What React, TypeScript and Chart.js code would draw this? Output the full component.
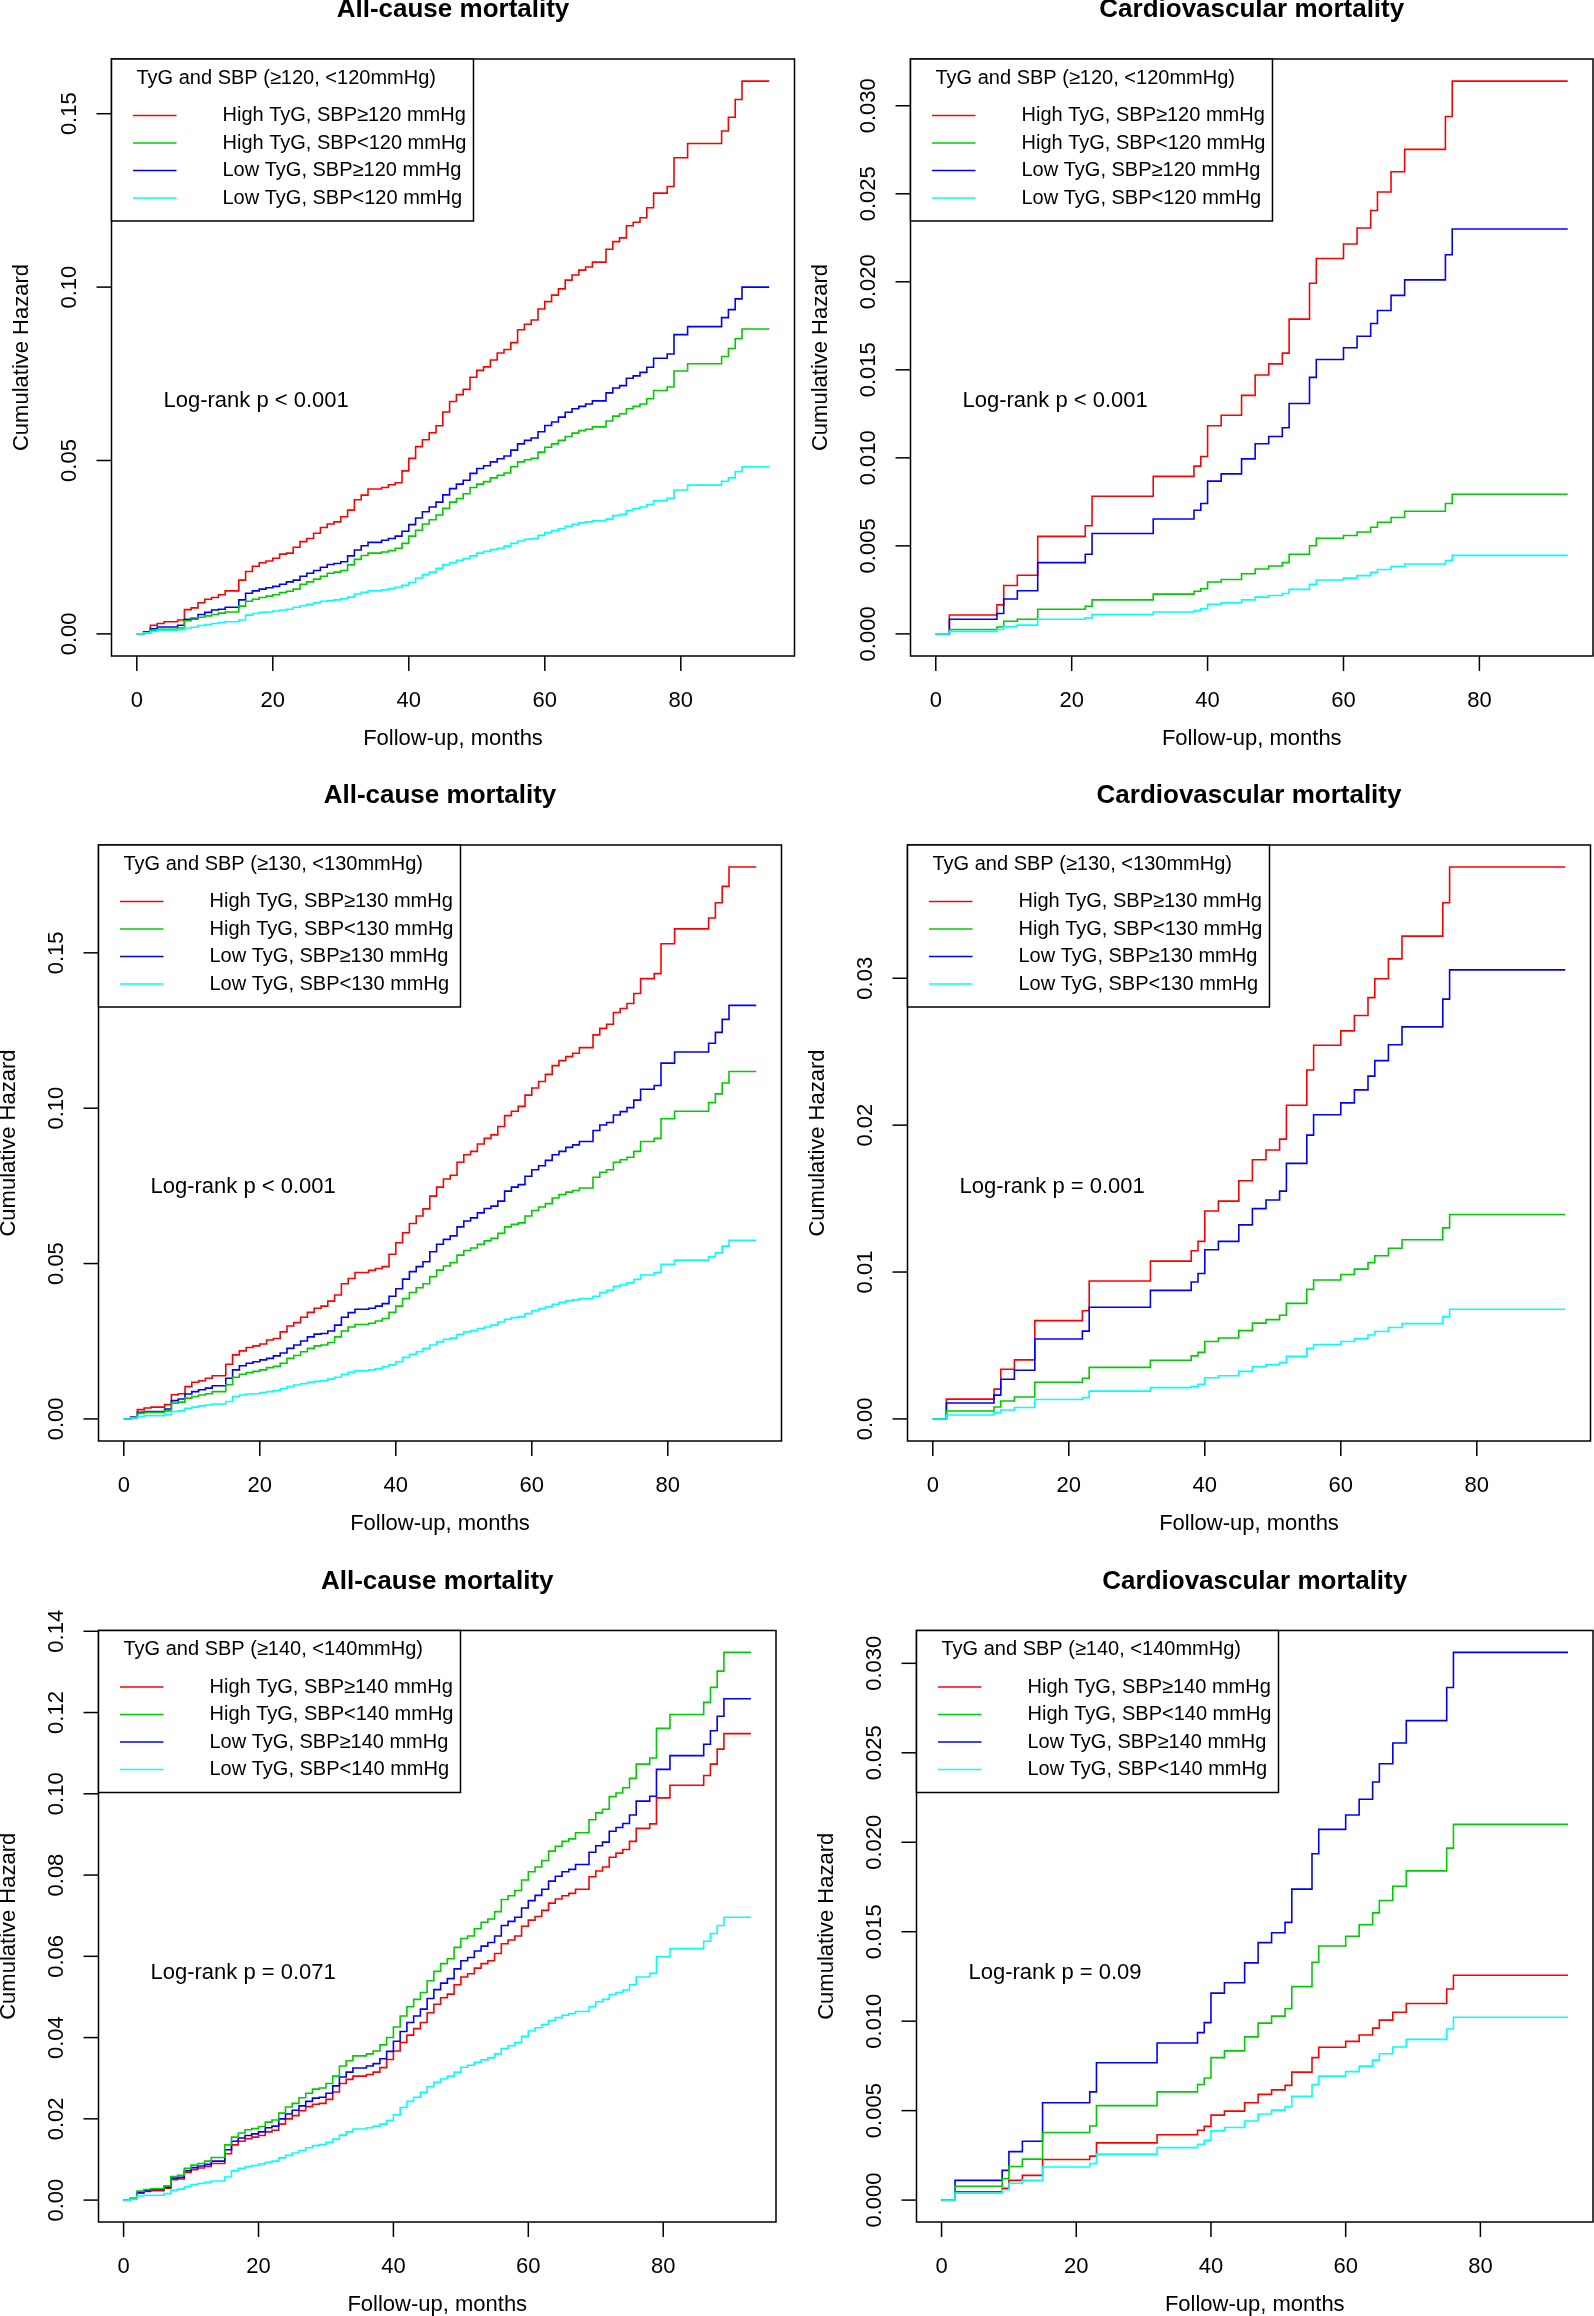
import React, { useEffect, useRef } from "react";
import { Chart, registerables } from "chart.js";

Chart.register(...registerables);

// ---------- data ----------
const X_TICKS = ["0", "20", "40", "60", "80"];
const SERIES_COLORS = ["#FF0000", "#00CD00", "#0000FF", "#00FFFF"];

// All-cause mortality: months at which the curves step (plus end of follow-up)
const ALL_MONTHS = [
  0, 1, 2, 3, 4,
  6, 7, 8, 9, 10, 11, 12, 13,
  15, 16, 17, 18, 19, 20, 21, 22, 23, 24, 25, 26, 27, 28, 29, 30, 31, 32, 33, 34,
  36, 37, 38, 39, 40, 41, 42, 43, 44, 45, 46, 47, 48, 49, 50, 51, 52, 53, 54, 55,
  56, 57, 58, 59, 60, 61, 62, 63, 64, 65, 66, 67,
  69, 70, 71, 72, 73, 74, 75, 76,
  78, 79, 81,
  86, 87, 88, 89,
  93,
];

// Cardiovascular mortality: step months (plus end of follow-up)
const CV_MONTHS = [0, 2, 9, 10, 12, 15, 22, 23, 32, 38, 39, 40, 42, 45, 47, 49, 51, 52, 55, 56, 60, 62, 64, 65, 67, 69, 75, 76, 93];

// Panel 1 (SBP 120, all-cause)
const P1_RED = [
  0, 0.0005, 0.0025, 0.003, 0.0035,
  0.004, 0.007, 0.0075, 0.009, 0.010, 0.0105, 0.0113, 0.0124,
  0.0155, 0.018, 0.0195, 0.0205, 0.021, 0.0218, 0.023, 0.0233, 0.025, 0.0266, 0.0275, 0.029, 0.0307, 0.0317, 0.0323, 0.0338, 0.0357, 0.0387, 0.040, 0.0418,
  0.0422, 0.043, 0.0436, 0.047, 0.0506, 0.054, 0.056, 0.058, 0.060, 0.064, 0.067, 0.069, 0.0705, 0.074, 0.076, 0.077, 0.079, 0.081, 0.082, 0.084,
  0.0877, 0.0893, 0.0905, 0.0937, 0.0958, 0.0977, 0.0995, 0.102, 0.1035, 0.1049, 0.1058, 0.1072,
  0.1109, 0.1131, 0.1142, 0.1177, 0.1187, 0.120, 0.1229, 0.1271,
  0.129, 0.1373, 0.1414,
  0.145, 0.149, 0.1541, 0.1594,
  0.1594,
];
const P1_GREEN = [
  0, 0.0003, 0.001, 0.0013, 0.0013,
  0.0017, 0.0038, 0.0042, 0.0048, 0.0052, 0.0056, 0.006, 0.0063,
  0.008, 0.0094, 0.01, 0.0105, 0.0109, 0.0113, 0.0119, 0.0123, 0.0129, 0.0143, 0.015, 0.0158, 0.0166, 0.0175, 0.0178, 0.0183, 0.0199, 0.0215, 0.0226, 0.0233,
  0.0236, 0.024, 0.0247, 0.0261, 0.0282, 0.0299, 0.0317, 0.0329, 0.0343, 0.0362, 0.038, 0.039, 0.0404, 0.0422, 0.0432, 0.0439, 0.045, 0.0457, 0.0464, 0.0482,
  0.0496, 0.0502, 0.0506, 0.0524, 0.0538, 0.0548, 0.0558, 0.0569, 0.0579, 0.0586, 0.059, 0.0597,
  0.0614, 0.0628, 0.0635, 0.0649, 0.0656, 0.0663, 0.0678, 0.0702,
  0.0712, 0.0758, 0.0779,
  0.08, 0.0823, 0.0851, 0.0879,
  0.0879,
];
const P1_BLUE = [
  0, 0.0005, 0.0015, 0.002, 0.002,
  0.0025, 0.0042, 0.0045, 0.0056, 0.0062, 0.0069, 0.0071, 0.0077,
  0.0098, 0.0117, 0.0124, 0.0129, 0.0133, 0.0137, 0.0143, 0.015, 0.0155, 0.0166, 0.0175, 0.0183, 0.0192, 0.020, 0.0203, 0.0208, 0.0225, 0.0242, 0.0254, 0.0264,
  0.027, 0.0275, 0.0282, 0.0296, 0.0315, 0.0334, 0.0352, 0.0366, 0.038, 0.0401, 0.0419, 0.0432, 0.0443, 0.0463, 0.0477, 0.0485, 0.0496, 0.0505, 0.0513, 0.053,
  0.0548, 0.0558, 0.0565, 0.0583, 0.0601, 0.0611, 0.0625, 0.0639, 0.0649, 0.0656, 0.0663, 0.0672,
  0.0695, 0.0709, 0.0716, 0.0737, 0.0744, 0.0754, 0.0769, 0.0795,
  0.0807, 0.0863, 0.0886,
  0.0912, 0.0935, 0.0966, 0.100,
  0.100,
];
const P1_CYAN = [
  0, 0.0003, 0.0007, 0.001, 0.001,
  0.0012, 0.0017, 0.0019, 0.0024, 0.0027, 0.003, 0.0033, 0.0035,
  0.004, 0.0054, 0.0059, 0.0062, 0.0063, 0.0066, 0.0069, 0.0071, 0.0077, 0.0081, 0.0085, 0.009, 0.0094, 0.0096, 0.0098, 0.0101, 0.0106, 0.0115, 0.012, 0.0124,
  0.0127, 0.013, 0.0134, 0.014, 0.0148, 0.0161, 0.0171, 0.0178, 0.0189, 0.0199, 0.0206, 0.0212, 0.0217, 0.0225, 0.0233, 0.0238, 0.0243, 0.0247, 0.0253, 0.0261,
  0.0268, 0.0273, 0.0275, 0.0284, 0.0292, 0.0298, 0.0303, 0.031, 0.0316, 0.032, 0.0323, 0.0326,
  0.0331, 0.0341, 0.0345, 0.0356, 0.0361, 0.0366, 0.0373, 0.0384,
  0.0391, 0.0415, 0.0429,
  0.044, 0.045, 0.0468, 0.0482,
  0.0482,
];

// Panel 2 (SBP 120, cardiovascular)
const P2_RED = [0, 0.00107, 0.00165, 0.00275, 0.00333, 0.00554, 0.00614, 0.00782, 0.00895, 0.00953, 0.01008, 0.01182, 0.01242, 0.01355, 0.01471, 0.01534, 0.01595, 0.01788, 0.01992, 0.02132, 0.02215, 0.02306, 0.02405, 0.0251, 0.02625, 0.02752, 0.02939, 0.0314, 0.0314];
const P2_GREEN = [0, 0.00025, 0.00039, 0.00072, 0.00083, 0.0014, 0.00157, 0.00193, 0.00226, 0.00242, 0.00256, 0.00295, 0.00309, 0.00342, 0.00369, 0.00386, 0.00405, 0.00452, 0.00501, 0.00543, 0.00559, 0.00579, 0.00606, 0.00634, 0.00661, 0.00697, 0.00741, 0.00793, 0.00793];
const P2_BLUE = [0, 0.00083, 0.00116, 0.00198, 0.00245, 0.00405, 0.00452, 0.0057, 0.00653, 0.00702, 0.00741, 0.00868, 0.00909, 0.00994, 0.0108, 0.01121, 0.01171, 0.01309, 0.01457, 0.01559, 0.01625, 0.01691, 0.01763, 0.01837, 0.01923, 0.02011, 0.02154, 0.023, 0.023];
const P2_CYAN = [0, 0.00014, 0.00025, 0.00041, 0.0005, 0.00083, 0.00091, 0.0011, 0.00124, 0.00132, 0.00143, 0.00168, 0.00176, 0.00193, 0.00209, 0.00218, 0.00229, 0.00253, 0.00281, 0.00306, 0.00317, 0.00331, 0.0035, 0.00366, 0.00383, 0.00397, 0.00416, 0.00446, 0.00446];

// Panel 3 (SBP 130, all-cause)
const P3_RED = [
  0, 0.0005, 0.003, 0.0035, 0.0038,
  0.0046, 0.0078, 0.0081, 0.0104, 0.0118, 0.0123, 0.0131, 0.0139,
  0.0176, 0.0206, 0.0219, 0.023, 0.0235, 0.0241, 0.0254, 0.0259, 0.028, 0.0299, 0.031, 0.0327, 0.0343, 0.0356, 0.0363, 0.0379, 0.0399, 0.0435, 0.0452, 0.0471,
  0.0478, 0.0484, 0.049, 0.053, 0.0567, 0.0599, 0.0629, 0.0653, 0.0676, 0.0717, 0.0746, 0.0772, 0.0784, 0.0826, 0.085, 0.0861, 0.0885, 0.0903, 0.0914, 0.0941,
  0.0976, 0.099, 0.1006, 0.1042, 0.1065, 0.1086, 0.1109, 0.1137, 0.1153, 0.1166, 0.1177, 0.1195,
  0.1236, 0.1257, 0.127, 0.1308, 0.1321, 0.1337, 0.1369, 0.1417,
  0.1433, 0.1529, 0.1577,
  0.1612, 0.1661, 0.1714, 0.1776,
  0.1776,
];
const P3_GREEN = [
  0, 0.0003, 0.0018, 0.0021, 0.0021,
  0.0026, 0.0051, 0.0054, 0.0067, 0.0072, 0.0077, 0.0081, 0.0088,
  0.011, 0.0134, 0.0144, 0.0149, 0.0153, 0.0158, 0.0165, 0.0169, 0.0179, 0.0195, 0.0204, 0.0216, 0.0227, 0.0235, 0.0238, 0.0246, 0.0264, 0.0283, 0.0296, 0.0304,
  0.0308, 0.0315, 0.0323, 0.0343, 0.0363, 0.0387, 0.0407, 0.0422, 0.0435, 0.0458, 0.0479, 0.0492, 0.0503, 0.0527, 0.0542, 0.055, 0.0562, 0.0573, 0.0581, 0.0597,
  0.0618, 0.0626, 0.0631, 0.0653, 0.0671, 0.0682, 0.0693, 0.0711, 0.0722, 0.073, 0.0735, 0.0743,
  0.0778, 0.0794, 0.0802, 0.0826, 0.0834, 0.0842, 0.0861, 0.0893,
  0.0903, 0.0966, 0.099,
  0.1018, 0.1046, 0.1081, 0.1118,
  0.1118,
];
const P3_BLUE = [
  0, 0.0005, 0.0021, 0.0024, 0.0024,
  0.0032, 0.0059, 0.0064, 0.008, 0.0088, 0.0094, 0.0099, 0.0107,
  0.0131, 0.0158, 0.0171, 0.0179, 0.0184, 0.019, 0.0195, 0.0203, 0.0212, 0.0227, 0.0238, 0.0251, 0.0264, 0.0273, 0.0275, 0.0283, 0.0302, 0.0327, 0.0342, 0.0353,
  0.0356, 0.0363, 0.0371, 0.0395, 0.0419, 0.045, 0.0474, 0.049, 0.0506, 0.0538, 0.0562, 0.0578, 0.0589, 0.0618, 0.0637, 0.0647, 0.0663, 0.0677, 0.0685, 0.0701,
  0.0733, 0.0746, 0.0754, 0.0781, 0.0802, 0.0815, 0.0832, 0.085, 0.0861, 0.0874, 0.0882, 0.0893,
  0.0928, 0.0946, 0.0954, 0.0978, 0.0989, 0.1002, 0.1026, 0.1061,
  0.1073, 0.1145, 0.1181,
  0.1209, 0.1244, 0.1286, 0.1331,
  0.1331,
];
const P3_CYAN = [
  0, 0.0003, 0.0008, 0.001, 0.001,
  0.0014, 0.0024, 0.0026, 0.0034, 0.0038, 0.0042, 0.0045, 0.0048,
  0.0056, 0.0072, 0.0077, 0.008, 0.0081, 0.0085, 0.0088, 0.0091, 0.0097, 0.0104, 0.0109, 0.0113, 0.0118, 0.0121, 0.0123, 0.0128, 0.0134, 0.0144, 0.015, 0.0155,
  0.0158, 0.0161, 0.0168, 0.0174, 0.0184, 0.0198, 0.0208, 0.0216, 0.0227, 0.0238, 0.0248, 0.0256, 0.026, 0.0272, 0.028, 0.0284, 0.0291, 0.0296, 0.0302, 0.0312,
  0.0321, 0.0326, 0.0329, 0.0339, 0.0348, 0.0355, 0.0361, 0.0369, 0.0375, 0.038, 0.0383, 0.0387,
  0.0395, 0.0407, 0.0414, 0.0427, 0.0431, 0.0438, 0.0449, 0.0463,
  0.0471, 0.0498, 0.0511,
  0.0522, 0.0535, 0.0556, 0.0575,
  0.0575,
];

// Panel 4 (SBP 130, cardiovascular)
const P4_RED = [0, 0.00135, 0.00203, 0.00338, 0.00402, 0.00669, 0.00736, 0.00939, 0.01074, 0.01145, 0.01209, 0.01416, 0.01483, 0.01622, 0.01764, 0.01831, 0.01905, 0.02135, 0.02375, 0.02544, 0.02642, 0.02747, 0.02868, 0.02997, 0.03132, 0.03287, 0.03514, 0.03757, 0.03757];
const P4_GREEN = [0, 0.00054, 0.00081, 0.00122, 0.00149, 0.0025, 0.00277, 0.00351, 0.00399, 0.00429, 0.00453, 0.00527, 0.00551, 0.00601, 0.00652, 0.00676, 0.00706, 0.00787, 0.00882, 0.00946, 0.00983, 0.0102, 0.01064, 0.01111, 0.01162, 0.0122, 0.01301, 0.01392, 0.01392];
const P4_BLUE = [0, 0.00108, 0.00162, 0.0027, 0.00331, 0.00544, 0.00598, 0.0076, 0.00875, 0.00932, 0.0099, 0.01152, 0.01209, 0.01321, 0.01432, 0.0149, 0.01551, 0.0174, 0.01932, 0.02071, 0.02152, 0.0224, 0.02334, 0.02439, 0.02547, 0.02669, 0.02858, 0.03057, 0.03057];
const P4_CYAN = [0, 0.00027, 0.00041, 0.00061, 0.00078, 0.00132, 0.00145, 0.00189, 0.00213, 0.0022, 0.00236, 0.0028, 0.00294, 0.00324, 0.00355, 0.00368, 0.00382, 0.00426, 0.0048, 0.00507, 0.00527, 0.00547, 0.00571, 0.00595, 0.00622, 0.00649, 0.00696, 0.00747, 0.00747];

// Panel 5 (SBP 140, all-cause)
const P5_RED = [
  0, 0.0004, 0.0017, 0.0021, 0.0023,
  0.0029, 0.005, 0.0052, 0.0068, 0.0075, 0.0079, 0.0083, 0.009,
  0.0114, 0.0136, 0.0145, 0.0151, 0.0155, 0.0159, 0.0168, 0.0172, 0.0187, 0.02, 0.0208, 0.022, 0.023, 0.0236, 0.0238, 0.0248, 0.0266, 0.0287, 0.0297, 0.0305,
  0.0309, 0.0315, 0.0326, 0.0346, 0.0367, 0.0388, 0.0406, 0.0422, 0.0437, 0.0461, 0.0482, 0.0498, 0.0507, 0.053, 0.0549, 0.0557, 0.0571, 0.0582, 0.0589, 0.0607,
  0.0631, 0.064, 0.065, 0.0674, 0.0689, 0.0698, 0.0713, 0.0731, 0.0741, 0.0749, 0.0755, 0.0765,
  0.0796, 0.081, 0.082, 0.0844, 0.0854, 0.0863, 0.0883, 0.0915,
  0.0926, 0.099, 0.1021,
  0.1045, 0.1073, 0.111, 0.1148,
  0.1148,
];
const P5_GREEN = [
  0, 0.0004, 0.0022, 0.0026, 0.0028,
  0.0035, 0.0058, 0.0061, 0.0078, 0.0086, 0.009, 0.0096, 0.0105,
  0.0136, 0.0155, 0.0165, 0.0173, 0.0176, 0.0181, 0.0192, 0.0197, 0.0214, 0.0229, 0.0238, 0.0252, 0.0263, 0.0273, 0.0276, 0.0287, 0.0305, 0.033, 0.0343, 0.0355,
  0.036, 0.0367, 0.0382, 0.04, 0.0426, 0.0453, 0.0476, 0.0494, 0.0511, 0.054, 0.0563, 0.0582, 0.0594, 0.0622, 0.0644, 0.065, 0.0668, 0.0684, 0.0692, 0.071,
  0.074, 0.0749, 0.0762, 0.0788, 0.0808, 0.082, 0.0836, 0.0859, 0.0871, 0.0883, 0.0889, 0.0904,
  0.0936, 0.0953, 0.0962, 0.0993, 0.1002, 0.1015, 0.1038, 0.1073,
  0.1088, 0.1161, 0.1195,
  0.1225, 0.1262, 0.1302, 0.1348,
  0.1348,
];
const P5_BLUE = [
  0, 0.0004, 0.0019, 0.0023, 0.0026,
  0.0032, 0.0054, 0.0056, 0.0072, 0.008, 0.0084, 0.0088, 0.0096,
  0.0124, 0.0145, 0.0153, 0.0159, 0.0163, 0.0168, 0.0178, 0.0182, 0.02, 0.0212, 0.0221, 0.0232, 0.0243, 0.0251, 0.0253, 0.0263, 0.0281, 0.0303, 0.0315, 0.0325,
  0.033, 0.0336, 0.0348, 0.0366, 0.0391, 0.0415, 0.0437, 0.0453, 0.047, 0.0496, 0.0518, 0.0534, 0.0545, 0.0569, 0.0589, 0.0597, 0.0613, 0.0625, 0.0634, 0.065,
  0.0676, 0.0686, 0.0696, 0.0719, 0.0737, 0.075, 0.0765, 0.0785, 0.0797, 0.0808, 0.0814, 0.0826,
  0.0856, 0.0872, 0.0881, 0.0908, 0.0917, 0.0927, 0.0948, 0.0982,
  0.0994, 0.106, 0.1094,
  0.1122, 0.1155, 0.1191, 0.1234,
  0.1234,
];
const P5_CYAN = [
  0, 0.0002, 0.001, 0.0012, 0.0012,
  0.0016, 0.0024, 0.0027, 0.0033, 0.0038, 0.0041, 0.0044, 0.0047,
  0.0057, 0.0072, 0.0078, 0.0082, 0.0085, 0.0089, 0.0093, 0.0096, 0.0104, 0.011, 0.0116, 0.0122, 0.0129, 0.0134, 0.0137, 0.0142, 0.015, 0.016, 0.0168, 0.0175,
  0.0178, 0.0182, 0.0187, 0.0196, 0.021, 0.0228, 0.0243, 0.0253, 0.0265, 0.0279, 0.029, 0.0298, 0.0305, 0.0315, 0.0327, 0.0332, 0.0339, 0.0345, 0.035, 0.036,
  0.0373, 0.038, 0.0388, 0.0403, 0.0416, 0.0424, 0.0432, 0.0442, 0.0449, 0.0455, 0.0459, 0.0464,
  0.0476, 0.0488, 0.0494, 0.0506, 0.0511, 0.0517, 0.053, 0.0549,
  0.0558, 0.0599, 0.0619,
  0.0637, 0.0656, 0.0676, 0.0696,
  0.0696,
];

// Panel 6 (SBP 140, cardiovascular)
const P6_RED = [0, 0.00047, 0.00066, 0.0011, 0.00138, 0.00227, 0.00246, 0.0032, 0.00365, 0.0039, 0.00412, 0.00475, 0.00497, 0.00544, 0.00591, 0.00616, 0.00641, 0.00715, 0.00796, 0.00854, 0.00887, 0.00923, 0.00961, 0.01006, 0.0105, 0.01099, 0.0118, 0.01257, 0.01257];
const P6_GREEN = [0, 0.00077, 0.0012, 0.00188, 0.00229, 0.00378, 0.00414, 0.00528, 0.00605, 0.00646, 0.00682, 0.00796, 0.00834, 0.00912, 0.00989, 0.01028, 0.01069, 0.01193, 0.01329, 0.0142, 0.01475, 0.01539, 0.01605, 0.01674, 0.01754, 0.0184, 0.01967, 0.021, 0.021];
const P6_BLUE = [0, 0.0011, 0.00166, 0.00271, 0.00329, 0.00544, 0.00605, 0.00768, 0.00878, 0.00936, 0.00992, 0.01157, 0.01215, 0.01326, 0.01439, 0.01494, 0.01552, 0.01738, 0.01936, 0.02072, 0.02152, 0.0224, 0.02337, 0.02439, 0.02555, 0.0268, 0.02865, 0.03061, 0.03061];
const P6_CYAN = [0, 0.00039, 0.00058, 0.00094, 0.0011, 0.00185, 0.00204, 0.00257, 0.00293, 0.00312, 0.00334, 0.00387, 0.00406, 0.00442, 0.00481, 0.00503, 0.00522, 0.0058, 0.00646, 0.00693, 0.00718, 0.00749, 0.00782, 0.00818, 0.00856, 0.00898, 0.00956, 0.01022, 0.01022];

// Tick labels
const Y_TICKS_ALL_A = ["0.00", "0.05", "0.10", "0.15"];
const Y_TICKS_CV_A = ["0.000", "0.005", "0.010", "0.015", "0.020", "0.025", "0.030"];
const Y_TICKS_CV_B = ["0.00", "0.01", "0.02", "0.03"];
const Y_TICKS_ALL_C = ["0.00", "0.02", "0.04", "0.06", "0.08", "0.10", "0.12", "0.14"];

const TITLES = ["All-cause mortality", "Cardiovascular mortality"];
const THRESHOLDS = ["120", "130", "140"];
const LOG_RANK = ["Log-rank p < 0.001", "Log-rank p < 0.001", "Log-rank p < 0.001", "Log-rank p = 0.001", "Log-rank p = 0.071", "Log-rank p = 0.09"];
const X_LABEL = "Follow-up, months";
const Y_LABEL = "Cumulative Hazard";

const legendLabels = (t: string) => [
  `High TyG, SBP\u2265${t} mmHg`,
  `High TyG, SBP<${t} mmHg`,
  `Low TyG, SBP\u2265${t} mmHg`,
  `Low TyG, SBP<${t} mmHg`,
];
const legendTitle = (t: string) => `TyG and SBP (\u2265${t}, <${t}mmHg)`;

// ---------- layout (pixel geometry of each panel) ----------
type Layout = { cx: number; cy: number; cw: number; ch: number; L: number; T: number; R: number; B: number };
const LAYOUTS: Layout[] = [
  { cx: 0, cy: 0, cw: 797, ch: 770, L: 111.5, T: 59, R: 794.5, B: 656 },
  { cx: 797, cy: 0, cw: 797, ch: 770, L: 910.5, T: 59, R: 1593, B: 656 },
  { cx: 0, cy: 770, cw: 797, ch: 770, L: 98.5, T: 845, R: 781.5, B: 1441 },
  { cx: 797, cy: 770, cw: 797, ch: 770, L: 907.5, T: 845, R: 1590.5, B: 1441 },
  { cx: 0, cy: 1540, cw: 797, ch: 776, L: 98.5, T: 1630.5, R: 776, B: 2222 },
  { cx: 797, cy: 1540, cw: 797, ch: 776, L: 916.5, T: 1630.5, R: 1593, B: 2222 },
];

type PanelDef = {
  title: string;
  threshold: string;
  months: number[];
  series: number[][];
  yTicks: string[];
  logRank: string;
  layout: Layout;
};

const PANELS: PanelDef[] = [
  { title: TITLES[0], threshold: THRESHOLDS[0], months: ALL_MONTHS, series: [P1_RED, P1_GREEN, P1_BLUE, P1_CYAN], yTicks: Y_TICKS_ALL_A, logRank: LOG_RANK[0], layout: LAYOUTS[0] },
  { title: TITLES[1], threshold: THRESHOLDS[0], months: CV_MONTHS, series: [P2_RED, P2_GREEN, P2_BLUE, P2_CYAN], yTicks: Y_TICKS_CV_A, logRank: LOG_RANK[1], layout: LAYOUTS[1] },
  { title: TITLES[0], threshold: THRESHOLDS[1], months: ALL_MONTHS, series: [P3_RED, P3_GREEN, P3_BLUE, P3_CYAN], yTicks: Y_TICKS_ALL_A, logRank: LOG_RANK[2], layout: LAYOUTS[2] },
  { title: TITLES[1], threshold: THRESHOLDS[1], months: CV_MONTHS, series: [P4_RED, P4_GREEN, P4_BLUE, P4_CYAN], yTicks: Y_TICKS_CV_B, logRank: LOG_RANK[3], layout: LAYOUTS[3] },
  { title: TITLES[0], threshold: THRESHOLDS[2], months: ALL_MONTHS, series: [P5_RED, P5_GREEN, P5_BLUE, P5_CYAN], yTicks: Y_TICKS_ALL_C, logRank: LOG_RANK[4], layout: LAYOUTS[4] },
  { title: TITLES[1], threshold: THRESHOLDS[2], months: CV_MONTHS, series: [P6_RED, P6_GREEN, P6_BLUE, P6_CYAN], yTicks: Y_TICKS_CV_A, logRank: LOG_RANK[5], layout: LAYOUTS[5] },
];

const FONT = '"Liberation Sans", Arial, Helvetica, sans-serif';
const LINE_W = 1.6;

// Plugin that draws the R-style frame, axes, title, legend and annotation
const rStylePlugin = {
  id: "rStyle",
  afterDraw(chart: any, _args: any, opts: any) {
    const { ctx, chartArea: a, scales } = chart;
    const x = scales.x;
    const y = scales.y;
    ctx.save();
    ctx.strokeStyle = "#000";
    ctx.fillStyle = "#000";
    ctx.lineWidth = 1.5;
    ctx.lineCap = "butt";

    // frame
    ctx.strokeRect(a.left, a.top, a.right - a.left, a.bottom - a.top);

    const seg = (x1: number, y1: number, x2: number, y2: number) => {
      ctx.beginPath();
      ctx.moveTo(x1, y1);
      ctx.lineTo(x2, y2);
      ctx.stroke();
    };

    // x axis
    ctx.font = `22px ${FONT}`;
    ctx.textAlign = "center";
    ctx.textBaseline = "middle";
    for (const lbl of opts.xTicks as string[]) {
      const px = x.getPixelForValue(Number(lbl));
      seg(px, a.bottom, px, a.bottom + 15);
      ctx.fillText(lbl, px, a.bottom + 45);
    }
    ctx.fillText(opts.xLabel, (a.left + a.right) / 2, a.bottom + 83);

    // y axis
    for (const lbl of opts.yTicks as string[]) {
      const py = y.getPixelForValue(Number(lbl));
      seg(a.left - 15, py, a.left, py);
      ctx.save();
      ctx.translate(a.left - 42, py);
      ctx.rotate(-Math.PI / 2);
      ctx.fillText(lbl, 0, 0);
      ctx.restore();
    }
    ctx.save();
    ctx.translate(a.left - 90, (a.top + a.bottom) / 2);
    ctx.rotate(-Math.PI / 2);
    ctx.fillText(opts.yLabel, 0, 0);
    ctx.restore();

    // title
    ctx.font = `bold 26px ${FONT}`;
    ctx.fillText(opts.title, (a.left + a.right) / 2, a.top - 49);

    // legend
    ctx.font = `20px ${FONT}`;
    const labels: string[] = opts.legendLabels;
    const itemW = Math.max(...labels.map((s) => ctx.measureText(s).width));
    const titleW = ctx.measureText(opts.legendTitle).width;
    const lw = Math.max(25 + titleW, 111 + itemW) + 7;
    const lh = 162;
    ctx.fillStyle = "#fff";
    ctx.fillRect(a.left, a.top, lw, lh);
    ctx.strokeStyle = "#000";
    ctx.strokeRect(a.left, a.top, lw, lh);
    ctx.fillStyle = "#000";
    ctx.textAlign = "left";
    ctx.fillText(opts.legendTitle, a.left + 25, a.top + 19);
    labels.forEach((s, i) => {
      const ly = a.top + 56.5 + i * 27.5;
      ctx.strokeStyle = opts.colors[i];
      ctx.lineWidth = LINE_W;
      seg(a.left + 21.5, ly, a.left + 65, ly);
      ctx.fillText(s, a.left + 111, ly);
    });

    // log-rank annotation
    ctx.font = `22px ${FONT}`;
    ctx.fillText(opts.logRank, a.left + 52, a.top + 342);

    ctx.restore();
  },
};

function Panel({ def }: { def: PanelDef }) {
  const ref = useRef<HTMLCanvasElement | null>(null);
  const { layout: lo } = def;

  useEffect(() => {
    if (!ref.current) return;
    const xMin = Math.min(...def.months);
    const xMax = Math.max(...def.months);
    const xPad = 0.04 * (xMax - xMin);
    const yMax = Math.max(...def.series.map((s) => Math.max(...s)));
    const yPad = 0.04 * yMax;
    const names = legendLabels(def.threshold);

    const datasets = def.series.map((vals, i) => ({
      label: names[i],
      data: def.months.map((m, j) => ({ x: m, y: vals[j] })),
      borderColor: SERIES_COLORS[i],
      backgroundColor: SERIES_COLORS[i],
      borderWidth: LINE_W,
      stepped: "before" as const,
      pointRadius: 0,
      fill: false,
    }));
    // draw cyan first, red last (R draws in order; keep red/blue on top like reference)
    const ordered = [datasets[3], datasets[1], datasets[2], datasets[0]];

    const chart = new Chart(ref.current, {
      type: "line",
      data: { datasets: ordered as any },
      options: {
        animation: false,
        responsive: false,
        devicePixelRatio: 1,
        events: [],
        layout: {
          padding: {
            left: lo.L - lo.cx,
            top: lo.T - lo.cy,
            right: lo.cx + lo.cw - lo.R,
            bottom: lo.cy + lo.ch - lo.B,
          },
        },
        scales: {
          x: { type: "linear", min: xMin - xPad, max: xMax + xPad, display: false },
          y: { type: "linear", min: -yPad, max: yMax + yPad, display: false },
        },
        plugins: {
          legend: { display: false },
          tooltip: { enabled: false },
          title: { display: false },
          rStyle: {
            xTicks: X_TICKS,
            yTicks: def.yTicks,
            xLabel: X_LABEL,
            yLabel: Y_LABEL,
            title: def.title,
            legendTitle: legendTitle(def.threshold),
            legendLabels: names,
            colors: SERIES_COLORS,
            logRank: def.logRank,
          },
        } as any,
      },
      plugins: [rStylePlugin],
    });
    return () => chart.destroy();
  }, [def]);

  return (
    <canvas
      ref={ref}
      width={lo.cw}
      height={lo.ch}
      style={{ position: "absolute", left: lo.cx, top: lo.cy, width: lo.cw, height: lo.ch }}
    />
  );
}

export default function App() {
  return (
    <div style={{ position: "absolute", left: 0, top: 0, width: 1594, height: 2316, background: "#fff", overflow: "hidden" }}>
      {PANELS.map((p, i) => (
        <Panel key={i} def={p} />
      ))}
    </div>
  );
}
